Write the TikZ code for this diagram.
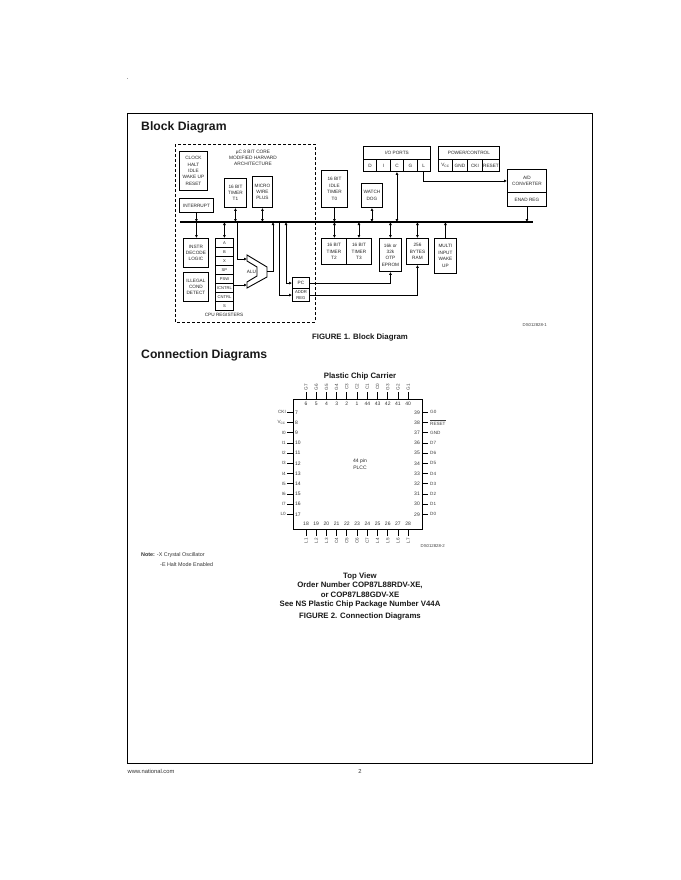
\documentclass[tikz,border=0pt]{standalone}
\usepackage{fontspec}
\setmainfont{Liberation Sans}
\usetikzlibrary{arrows.meta}
\tikzset{
  x=1pt,y=-1pt,
  bx/.style={draw,line width=0.9pt,inner sep=0pt,align=center,font=\fontsize{4.7}{6.4}\selectfont,text=black!85},
  cell/.style={font=\fontsize{4.7}{6}\selectfont,text=black!85,inner sep=0pt,align=center},
  wire/.style={line width=0.7pt},
  arr/.style={line width=0.7pt,-{Latex[length=3pt,width=3pt]}},
  darr/.style={line width=0.7pt,{Latex[length=3pt,width=3pt]}-{Latex[length=3pt,width=3pt]}},
  head/.style={font=\bfseries\fontsize{12.2}{14}\selectfont,anchor=west,inner sep=0pt,text=black!90},
  fig/.style={font=\bfseries\fontsize{7.8}{9.3}\selectfont,inner sep=0pt,align=center,text=black!90},
  small/.style={font=\fontsize{5.4}{7}\selectfont,inner sep=0pt,text=black!80},
  pn/.style={font=\fontsize{5}{6}\selectfont,inner sep=0pt,text=black!80},
  pl/.style={font=\fontsize{4.6}{6}\selectfont,inner sep=0pt,text=black!75},
  pin/.style={line width=0.8pt},
}
\newcommand{\bxat}[6]{\node[bx,minimum width=#4-#2,minimum height=#5-#3,anchor=north west] (#1) at (#2,#3) {#6};}
\begin{document}
\begin{tikzpicture}
\useasboundingbox (0,0) rectangle (680,880);
\fill[white] (0,0) rectangle (680,880);
\node[font=\fontsize{6}{6}\selectfont,inner sep=0pt] (dot) at (127.5,79) {.};
\draw[line width=0.8pt] (127,113) rectangle (592,763);
\node[head] (h1) at (141,127.5) {Block Diagram};
\node[head] (h2) at (141,355.5) {Connection Diagrams};
\node[small,anchor=west,font=\fontsize{5.8}{7}\selectfont] (web) at (127.5,771) {www.national.com};
\node[small,font=\fontsize{5.8}{7}\selectfont] (pg) at (360,771) {2};

% dashed core
\draw[line width=0.9pt,dash pattern=on 3pt off 2pt] (175,144) rectangle (315,322);
\node[cell,align=center,font=\fontsize{4.8}{6.3}\selectfont] (core) at (253,158) {µC 8 BIT CORE\\MODIFIED HARVARD\\ARCHITECTURE};

% bus
\coordinate (busL) at (180,222);
\coordinate (busR) at (533,222);
\draw[line width=2.6pt] (busL) -- (busR);
\coordinate (tapAlu) at (237,222);
\coordinate (tapOut) at (273,222);
\coordinate (tapAddr) at (279,222);
\coordinate (tapPc) at (286,222);

\bxat{clock}{179}{151}{207}{190}{CLOCK\\HALT\\IDLE\\WAKE UP\\RESET}
\bxat{intr}{179}{198}{213}{212}{INTERRUPT}
\bxat{t1}{224}{178}{246}{207}{16 BIT\\TIMER\\T1}
\bxat{mw}{252}{176}{272}{207}{MICRO\\WIRE\\PLUS}
\bxat{instr}{183}{238}{208}{267}{INSTR\\DECODE\\LOGIC}
\bxat{illeg}{183}{272}{208}{301}{ILLEGAL\\COND\\DETECT}

% registers
\foreach \n/\t [count=\i from 0] in {a/A,b/B,x/X,sp/SP,psw/PSW,ic/ICNTRL,c/CNTRL,s/S}{
  \node[bx,minimum width=18,minimum height=9,anchor=north west,font=\fontsize{4.1}{5}\selectfont] (r\n) at (215,238+9*\i) {\t};
}
\node[cell] (cpu) at (224,315) {CPU REGISTERS};

% ALU
\draw[line width=0.9pt] (247,255) -- (267,267) -- (267,277) -- (247,288) -- (247,282) -- (257,276) -- (257,267) -- (247,261) -- cycle;
\node[cell] (alu) at (251.5,271.5) {ALU};
\coordinate (aluin1) at (247,259);
\coordinate (aluin2) at (247,285);
\coordinate (aluout) at (267,271.5);

% PC
\bxat{pc}{292}{277}{309}{288.3}{PC}
\bxat{addr}{292}{288.3}{309}{301}{\fontsize{4.2}{4.8}\selectfont ADDR\\[-0.3pt]\fontsize{4.2}{4.8}\selectfont REG}

% right blocks
\bxat{t0}{321}{170}{347}{207}{16 BIT\\IDLE\\TIMER\\T0}
\bxat{wd}{361}{183}{382}{207}{WATCH\\DOG}
\bxat{t2}{321}{238}{346}{264}{16 BIT\\TIMER\\T2}
\bxat{t3}{346}{238}{371}{264}{16 BIT\\TIMER\\T3}
\bxat{ep}{379}{238}{401}{271}{16k or\\32k\\OTP\\EPROM}
\bxat{ram}{406}{238}{428}{264}{256\\BYTES\\RAM}
\bxat{mi}{434}{238}{456}{273}{MULTI\\INPUT\\WAKE\\UP}

% IO ports
\bxat{io}{363}{146}{430}{159}{I/O PORTS}
\foreach \t [count=\i from 0] in {D,I,C,G,L}{
  \node[bx,minimum width=13.4,minimum height=12,anchor=north west] (p\t) at (363+13.4*\i,159) {\t};
}
\bxat{pw}{438}{146}{499}{159}{POWER/CONTROL}
\bxat{vcc}{438}{159}{452}{171}{V$_{\mathrm{CC}}$}
\bxat{gnd}{452}{159}{467}{171}{GND}
\bxat{cki}{467}{159}{482}{171}{CKI}
\bxat{rst}{482}{159}{499}{171}{RESET}
\bxat{ad}{507}{169}{546}{192}{A/D\\CONVERTER}
\bxat{en}{507}{192}{546}{206}{ENAD REG}

% connectors
\draw[arr] (intr.south) -- (intr.south |- busL);
\draw[arr] (intr.south |- busL) -- (intr.south |- instr.north);
\draw[darr] (t1.south) -- (t1.south |- busL);
\draw[darr] (mw.south) -- (mw.south |- busL);
\draw[darr] (ra.north |- busL) -- (ra.north);
\draw[arr] (tapAlu) |- (aluin1);
\draw[arr] (ric.east |- aluin2) -- (aluin2);
\draw[arr] (aluout) -| (tapOut);
\draw[arr] (tapAddr) |- (addr.west);
\draw[darr] (tapPc) |- (pc.west);
\draw[arr] (pc.east) -| (ep.south);
\draw[arr] (addr.east) -| (ram.south);
\draw[arr] (t0.south) -- (t0.south |- busL);
\draw[darr] (t0.south |- busL) -- (t0.south |- t2.north);
\draw[darr] (t3.north |- busL) -- (t3.north);
\draw[darr] (wd.south) -- (wd.south |- busL);
\draw[darr] (pC.south) -- (pC.south |- busL);
\draw[darr] (ep.north |- busL) -- (ep.north);
\draw[darr] (ram.north |- busL) -- (ram.north);
\draw[arr] (mi.north) -- (mi.north |- busL);
\draw[arr] (en.south) -- (en.south |- busL);
\draw[arr] (pL.south) |- (ad.west);

\node[pl,font=\fontsize{4.3}{5}\selectfont,anchor=east] (id1) at (547,325.5) {DS012828-1};
\node[fig] (f1) at (360,337) {FIGURE 1. Block Diagram};

% Chip
\node[fig] (pcc) at (360,376) {Plastic Chip Carrier};
\draw[line width=0.9pt] (293,399) rectangle (422,529);
\node[cell,font=\fontsize{5}{7.5}\selectfont] (plcc) at (360,464) {44 pin\\PLCC};
\foreach \lab/\num [count=\i from 0] in {G7/6,G6/5,G5/4,G4/3,C3/2,C2/1,C1/44,C0/43,G3/42,G2/41,G1/40}{
  \draw[pin] (306+10.22*\i,392) -- (306+10.22*\i,399);
  \node[pl,rotate=90] (tl\i) at (306+10.22*\i,387) {\lab};
  \node[pn] (tn\i) at (306+10.22*\i,403.5) {\num};
}
\foreach \lab/\num [count=\i from 0] in {L1/18,L2/19,L3/20,C4/21,C5/22,C6/23,C7/24,L4/25,L5/26,L6/27,L7/28}{
  \draw[pin] (306+10.22*\i,529) -- (306+10.22*\i,536);
  \node[pl,rotate=90] (bl\i) at (306+10.22*\i,540.5) {\lab};
  \node[pn] (bn\i) at (306+10.22*\i,524) {\num};
}
\foreach \lab/\num [count=\i from 0] in {CKI/7,V$_{\mathrm{CC}}$/8,I0/9,I1/10,I2/11,I3/12,I4/13,I5/14,I6/15,I7/16,L0/17}{
  \draw[pin] (287,412.3+10.2*\i) -- (293,412.3+10.2*\i);
  \node[pl,anchor=east] (ll\i) at (286,412.3+10.2*\i) {\lab};
  \node[pn,anchor=west] (ln\i) at (295,412.3+10.2*\i) {\num};
}
\foreach \lab/\num [count=\i from 0] in {G0/39,$\overline{\mbox{RESET}}$/38,GND/37,D7/36,D6/35,D5/34,D4/33,D3/32,D2/31,D1/30,D0/29}{
  \draw[pin] (422,412.3+10.2*\i) -- (428,412.3+10.2*\i);
  \node[pl,anchor=west] (rl\i) at (430,412.3+10.2*\i) {\lab};
  \node[pn,anchor=east] (rn\i) at (420,412.3+10.2*\i) {\num};
}
\node[pl,font=\fontsize{4.3}{5}\selectfont,anchor=east] (id2) at (445,546.5) {DS012828-2};

% notes
\node[small,anchor=west] (n1) at (141,555.5) {\textbf{Note:} -X Crystal Oscillator};
\node[small,anchor=west] (n2) at (160,565) {-E Halt Mode Enabled};
\node[fig] (tv) at (360,590.5) {Top View\\Order Number COP87L88RDV-XE,\\or COP87L88GDV-XE\\See NS Plastic Chip Package Number V44A};
\node[fig] (f2) at (360,616.5) {FIGURE 2. Connection Diagrams};
\end{tikzpicture}
\end{document}
